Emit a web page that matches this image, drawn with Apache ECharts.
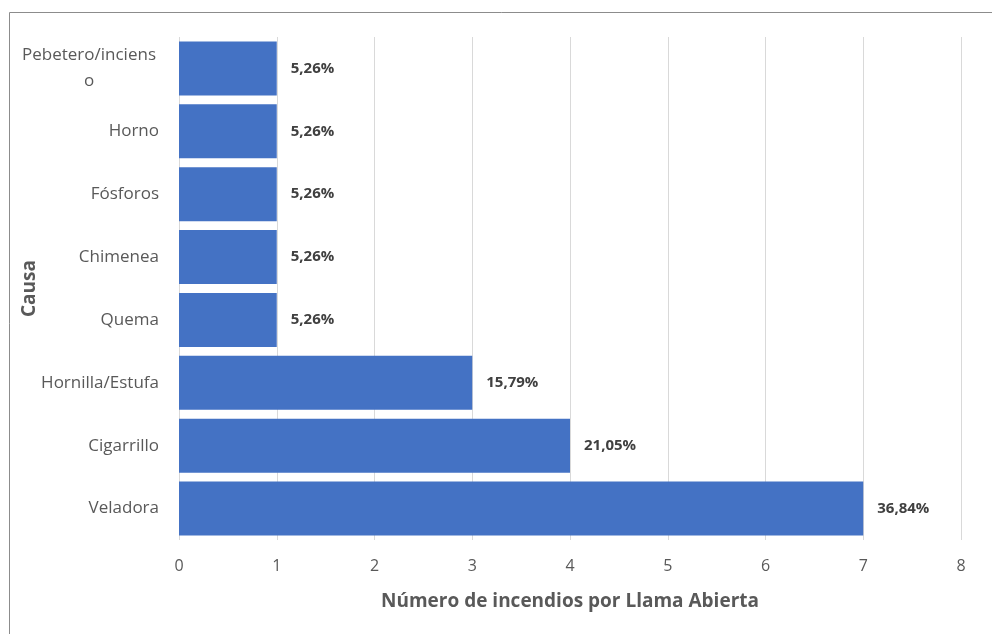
<!DOCTYPE html>
<html><head><meta charset="utf-8">
<script src="https://cdn.jsdelivr.net/npm/echarts@6/dist/echarts.min.js"></script>
<style>html,body{margin:0;padding:0;background:#fff}#c{width:992px;height:634px}</style>
</head><body><div id="c"></div>
<script>
const categories = ['Veladora','Cigarrillo','Hornilla/Estufa','Quema','Chimenea','Fósforos','Horno','Pebetero/incienso'];
const values = [7,4,3,1,1,1,1,1];
const percentLabels = ['36,84%','21,05%','15,79%','5,26%','5,26%','5,26%','5,26%','5,26%'];
const xTicks = [0,1,2,3,4,5,6,7,8];

const FONT = '"Open Sans", sans-serif';
const chart = echarts.init(document.getElementById('c'));
chart.setOption({
  animation:false,
  backgroundColor:'#fff',
  graphic:[{type:'rect',shape:{x:9.5,y:12.5,width:1000,height:700},style:{fill:'none',stroke:'#8c8c8c',lineWidth:1},silent:true}],
  grid:{left:179,right:31,top:37,bottom:94,containLabel:false,outerBoundsMode:'none'},
  xAxis:{type:'value',min:xTicks[0],max:xTicks[xTicks.length-1],interval:1,
    name:'Número de incendios por Llama Abierta',nameLocation:'middle',nameGap:52,nameMoveOverlap:false,
    nameTextStyle:{fontFamily:FONT,fontSize:19,fontWeight:'bold',color:'#595959'},
    axisLine:{show:false},axisTick:{show:false},
    axisLabel:{fontFamily:FONT,fontSize:16,color:'#595959',margin:18},
    splitLine:{show:true,lineStyle:{color:'#d9d9d9',width:1}}},
  yAxis:{type:'category',data:categories,
    name:'Causa',nameLocation:'middle',nameGap:140,nameRotate:90,nameMoveOverlap:false,
    nameTextStyle:{fontFamily:FONT,fontSize:19,fontWeight:'bold',color:'#595959'},
    axisLine:{show:false},axisTick:{show:false},
    axisLabel:{fontFamily:FONT,fontSize:17,color:'#595959',margin:20,
      formatter:function(v){ if(v==='Pebetero/incienso') return '{c|Pebetero/inciens}\n{c|o}'; return v; },
      rich:{c:{fontFamily:FONT,fontSize:17,color:'#595959',width:140,align:'center',lineHeight:26}}}},
  series:[{type:'bar',data:values,barCategoryGap:'14%',
    itemStyle:{color:'#4472c4'},
    label:{show:true,position:'right',distance:14,fontFamily:FONT,fontSize:15,fontWeight:'bold',color:'#404040',
      formatter:function(p){return percentLabels[p.dataIndex];}}}]
});
</script></body></html>
